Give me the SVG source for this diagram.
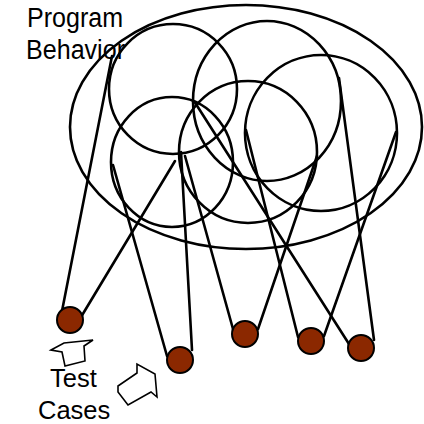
<svg xmlns="http://www.w3.org/2000/svg" width="424" height="424" viewBox="0 0 424 424">
<style>
.c{fill:none;stroke:#000;stroke-width:2.6}
.l{stroke:#000;stroke-width:2.6;stroke-linecap:round;fill:none}
.b{fill:#8b2800;stroke:#000;stroke-width:2}
.a{fill:#fff;stroke:#000;stroke-width:1.6;stroke-linejoin:miter}
.t{font-family:"Liberation Sans",Arial,sans-serif;fill:#000}
</style>
<rect width="424" height="424" fill="#fff"/>
<g id="labels">
<text class="t" x="27" y="27" font-size="27" textLength="96" lengthAdjust="spacingAndGlyphs">Program</text>
<text class="t" x="26" y="59" font-size="27" textLength="99" lengthAdjust="spacingAndGlyphs">Behavior</text>
</g>
<g id="program-behavior"><ellipse class="c" cx="246" cy="127" rx="176" ry="122"/></g>
<g id="circle-a"><ellipse class="c" cx="173" cy="89" rx="64" ry="65"/></g>
<g id="circle-b"><ellipse class="c" cx="267" cy="101" rx="74" ry="80"/></g>
<g id="circle-c"><ellipse class="c" cx="248" cy="152" rx="69" ry="71"/></g>
<g id="circle-d"><ellipse class="c" cx="172" cy="162" rx="61" ry="65"/></g>
<g id="circle-e"><ellipse class="c" cx="321" cy="133" rx="76" ry="78"/></g>
<g id="connectors">
<line class="l" x1="62" y1="311" x2="112" y2="56"/>
<line class="l" x1="81" y1="317" x2="175" y2="161"/>
<line class="l" x1="167" y1="356" x2="113" y2="165"/>
<line class="l" x1="192" y1="350" x2="181" y2="152"/>
<line class="l" x1="233" y1="329" x2="185" y2="156"/>
<line class="l" x1="258" y1="329" x2="317" y2="156"/>
<line class="l" x1="298" y1="337" x2="246" y2="130"/>
<line class="l" x1="324" y1="336" x2="396" y2="132"/>
<line class="l" x1="349" y1="344" x2="194" y2="101"/>
<line class="l" x1="374" y1="340" x2="339" y2="78"/>
</g>
<g id="test-case-1"><circle class="b" cx="70" cy="320" r="13"/></g>
<g id="test-case-2"><circle class="b" cx="180" cy="360" r="13"/></g>
<g id="test-case-3"><circle class="b" cx="245" cy="334" r="13"/></g>
<g id="test-case-4"><circle class="b" cx="311" cy="341" r="13"/></g>
<g id="test-case-5"><circle class="b" cx="361" cy="348" r="13"/></g>
<g id="arrow-1"><polygon class="a" points="51,350 64,343 93,340 84,346 85,361 65,366 62,352"/></g>
<g id="arrow-2"><polygon class="a" points="118,386 137,373 137,364 155,374 157,397 151,392 128,405 118,392"/></g>
<g id="test-cases-label">
<text class="t" x="50" y="387" font-size="25.5">Test</text>
<text class="t" x="38" y="419" font-size="25.5">Cases</text>
</g>
</svg>
